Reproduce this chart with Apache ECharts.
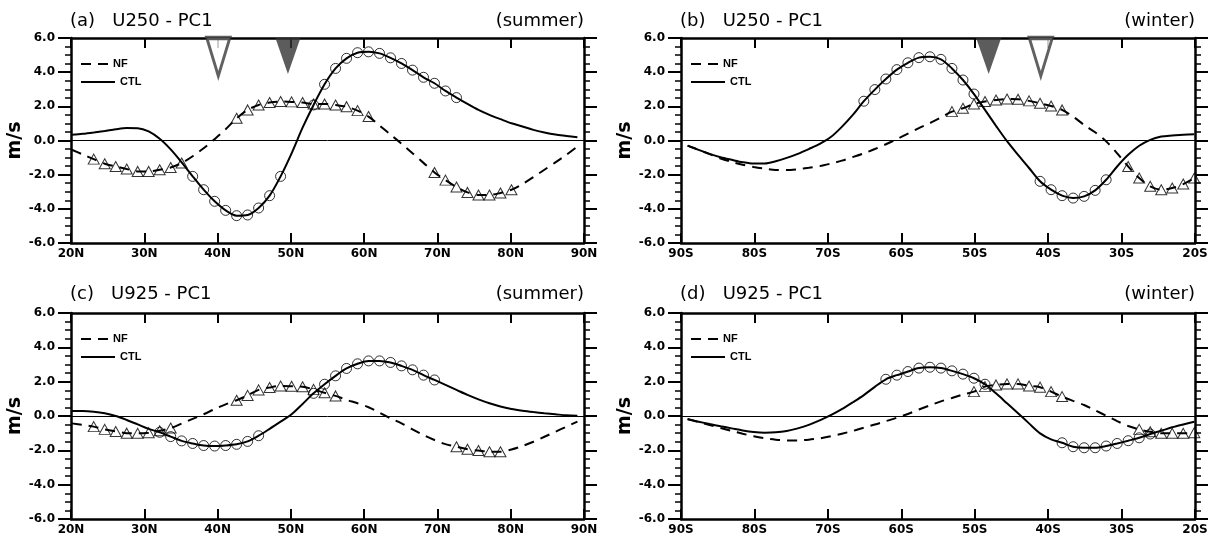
<!DOCTYPE html>
<html>
<head>
<meta charset="utf-8">
<script src="https://cdn.jsdelivr.net/npm/echarts@6.0.0/dist/echarts.min.js"></script>
<style>
  html, body { margin: 0; padding: 0; background: #fff; }
  #chart { width: 1217px; height: 543px; }
</style>
</head>
<body>
<div id="chart"></div>
<script>
  // latitude grid (1.5 deg)
  var latN = [20.1, 21.6, 23.1, 24.6, 26.1, 27.6, 29.1, 30.6, 32.1, 33.6,
    35.1, 36.6, 38.1, 39.6, 41.1, 42.6, 44.1, 45.6, 47.1, 48.6,
    50.1, 51.6, 53.1, 54.6, 56.1, 57.6, 59.1, 60.6, 62.1, 63.6,
    65.1, 66.6, 68.1, 69.6, 71.1, 72.6, 74.1, 75.6, 77.1, 78.6,
    80.1, 81.6, 83.1, 84.6, 86.1, 87.6, 89.1];
  var latS = latN.slice().reverse().map(function (v) { return -v; });

  // y axis range / ticks
  var yMin = -6, yMax = 6, yStep = 2;

  // (a) U250 summer
  var nfA = [-0.54, -0.82, -1.09, -1.36, -1.52, -1.67, -1.81, -1.81, -1.71, -1.58,
    -1.32, -0.92, -0.45, 0.08, 0.66, 1.30, 1.79, 2.08, 2.22, 2.28,
    2.26, 2.22, 2.14, 2.14, 2.08, 1.98, 1.75, 1.40, 0.88, 0.35,
    -0.19, -0.75, -1.31, -1.87, -2.32, -2.72, -3.04, -3.19, -3.19, -3.07,
    -2.88, -2.55, -2.14, -1.71, -1.28, -0.84, -0.35];
  var ctlA = [0.33, 0.39, 0.47, 0.56, 0.66, 0.73, 0.72, 0.53, 0.10, -0.52,
    -1.28, -2.10, -2.88, -3.56, -4.09, -4.40, -4.36, -3.95, -3.23, -2.10,
    -0.75, 0.75, 2.08, 3.29, 4.22, 4.81, 5.14, 5.19, 5.10, 4.84,
    4.51, 4.12, 3.70, 3.35, 2.90, 2.51, 2.14, 1.79, 1.50, 1.25,
    1.01, 0.82, 0.62, 0.47, 0.35, 0.27, 0.19];
  var sigNfA = [[23.1, 35.1], [42.6, 60.6], [69.6, 80.1]];
  var sigCtlA = [[36.6, 48.6], [53.1, 72.6]];
  var jetNfA = [40.1];
  var jetCtlA = [49.6];

  // (b) U250 winter
  var nfB = [-0.30, -0.55, -0.80, -1.05, -1.25, -1.42, -1.55, -1.65, -1.72, -1.73,
    -1.68, -1.60, -1.50, -1.35, -1.18, -0.97, -0.75, -0.50, -0.22, 0.08,
    0.40, 0.72, 1.02, 1.35, 1.69, 1.89, 2.14, 2.28, 2.37, 2.43,
    2.41, 2.32, 2.18, 2.02, 1.79, 1.40, 0.91, 0.48, -0.05, -0.75,
    -1.52, -2.20, -2.68, -2.88, -2.78, -2.55, -2.20];
  var ctlB = [-0.30, -0.55, -0.78, -0.98, -1.13, -1.27, -1.35, -1.35, -1.22, -1.02,
    -0.78, -0.50, -0.20, 0.20, 0.80, 1.50, 2.30, 2.98, 3.60, 4.15,
    4.55, 4.85, 4.90, 4.75, 4.22, 3.54, 2.72, 1.79, 0.86, -0.04,
    -0.84, -1.61, -2.39, -2.88, -3.23, -3.37, -3.27, -2.92, -2.30, -1.52,
    -0.84, -0.31, 0.04, 0.23, 0.29, 0.33, 0.37];
  var sigNfB = [[-53.1, -38.1], [-29.1, -20.1]];
  var sigCtlB = [[-65.1, -50.1], [-41.1, -32.1]];
  var jetNfB = [-41.0];
  var jetCtlB = [-48.1];

  // (c) U925 summer
  var nfC = [-0.43, -0.52, -0.62, -0.78, -0.90, -1.00, -1.01, -0.97, -0.86, -0.70,
    -0.44, -0.17, 0.10, 0.40, 0.68, 0.92, 1.20, 1.52, 1.66, 1.75,
    1.73, 1.70, 1.55, 1.35, 1.17, 0.94, 0.74, 0.51, 0.19, -0.14,
    -0.43, -0.78, -1.11, -1.40, -1.64, -1.79, -1.94, -2.01, -2.08, -2.08,
    -1.95, -1.75, -1.50, -1.21, -0.92, -0.62, -0.33];
  var ctlC = [0.29, 0.29, 0.25, 0.16, 0.00, -0.23, -0.49, -0.75, -0.95, -1.20,
    -1.45, -1.60, -1.72, -1.75, -1.72, -1.65, -1.48, -1.15, -0.75, -0.33,
    0.10, 0.70, 1.32, 1.85, 2.34, 2.77, 3.04, 3.21, 3.21, 3.12,
    2.92, 2.69, 2.38, 2.10, 1.81, 1.52, 1.23, 0.97, 0.74, 0.55,
    0.41, 0.31, 0.23, 0.16, 0.10, 0.04, 0.02];
  var sigNfC = [[23.1, 33.6], [42.6, 56.1], [72.6, 78.6]];
  var sigCtlC = [[32.1, 45.6], [53.1, 69.6]];

  // (d) U925 winter
  var nfD = [-0.17, -0.35, -0.52, -0.70, -0.87, -1.03, -1.18, -1.30, -1.38, -1.42,
    -1.42, -1.38, -1.30, -1.18, -1.03, -0.87, -0.68, -0.50, -0.30, -0.10,
    0.12, 0.38, 0.62, 0.85, 1.05, 1.25, 1.42, 1.71, 1.81, 1.87,
    1.87, 1.75, 1.68, 1.42, 1.13, 0.88, 0.64, 0.33, 0.02, -0.30,
    -0.58, -0.78, -0.92, -1.01, -1.01, -1.01, -0.97];
  var ctlD = [-0.19, -0.33, -0.47, -0.60, -0.72, -0.84, -0.93, -0.97, -0.95, -0.87,
    -0.72, -0.52, -0.25, 0.05, 0.40, 0.80, 1.22, 1.70, 2.14, 2.38,
    2.59, 2.79, 2.84, 2.79, 2.63, 2.44, 2.20, 1.85, 1.32, 0.74,
    0.16, -0.43, -1.01, -1.36, -1.56, -1.79, -1.85, -1.85, -1.75, -1.60,
    -1.44, -1.27, -1.05, -0.86, -0.66, -0.49, -0.33];
  var sigNfD = [[-50.1, -38.1], [-27.6, -20.1]];
  var sigCtlD = [[-62.1, -48.6], [-38.1, -26.1]];

  var panels = [
    { title: '(a)   U250 - PC1', season: '(summer)', hemi: 'N', lats: latN, nf: nfA, ctl: ctlA, nfSig: sigNfA, ctlSig: sigCtlA, jetNf: jetNfA, jetCtl: jetCtlA },
    { title: '(b)   U250 - PC1', season: '(winter)', hemi: 'S', lats: latS, nf: nfB, ctl: ctlB, nfSig: sigNfB, ctlSig: sigCtlB, jetNf: jetNfB, jetCtl: jetCtlB },
    { title: '(c)   U925 - PC1', season: '(summer)', hemi: 'N', lats: latN, nf: nfC, ctl: ctlC, nfSig: sigNfC, ctlSig: sigCtlC, jetNf: [], jetCtl: [] },
    { title: '(d)   U925 - PC1', season: '(winter)', hemi: 'S', lats: latS, nf: nfD, ctl: ctlD, nfSig: sigNfD, ctlSig: sigCtlD, jetNf: [], jetCtl: [] }
  ];

  function pairs(lats, vals) {
    return lats.map(function (x, i) { return [x, vals[i]]; });
  }
  function sigPairs(lats, vals, ranges) {
    var out = [];
    lats.forEach(function (x, i) {
      ranges.forEach(function (r) {
        if (x >= r[0] - 0.01 && x <= r[1] + 0.01) out.push([x, vals[i]]);
      });
    });
    return out;
  }

  var chart = echarts.init(document.getElementById('chart'));
  var black = '#000';
  var labelFont = { color: black, fontFamily: 'DejaVu Sans', fontWeight: 'bold', fontSize: 12 };

  var option = {
    animation: false,
    backgroundColor: '#fff',
    title: [], legend: [], grid: [], xAxis: [], yAxis: [], series: []
  };

  panels.forEach(function (p, i) {
    var col = i % 2, row = Math.floor(i / 2);
    var left = col ? 681 : 71, width = col ? 514 : 513;
    var top = row ? 313 : 38, height = row ? 206 : 205;
    var titleTop = row ? 285 : 12;

    option.grid.push({ left: left, top: top, width: width, height: height, containLabel: false, outerBoundsMode: 'none' });

    var xmin = p.hemi === 'N' ? 20 : -90;
    var xmax = p.hemi === 'N' ? 90 : -20;
    var fmt = p.hemi === 'N'
      ? function (v) { return v + 'N'; }
      : function (v) { return (-v) + 'S'; };

    // 边框 + 刻度
    option.xAxis.push({
      gridIndex: i, type: 'value', min: xmin, max: xmax, interval: 10, position: 'bottom',
      axisLine: { onZero: false, lineStyle: { color: black, width: 2.5 } },
      axisTick: { inside: true, length: 10, lineStyle: { color: black, width: 2 } },
      axisLabel: Object.assign({ margin: 5, formatter: fmt }, labelFont),
      splitLine: { show: false }
    });
    option.xAxis.push({
      gridIndex: i, type: 'value', min: xmin, max: xmax, interval: 10, position: 'top',
      axisLine: { onZero: false, lineStyle: { color: black, width: 2.5 } },
      axisTick: { inside: true, length: 10, lineStyle: { color: black, width: 2 } },
      axisLabel: { show: false },
      splitLine: { show: false }
    });
    option.yAxis.push({
      gridIndex: i, type: 'value', min: yMin, max: yMax, interval: yStep, position: 'left',
      name: 'm/s', nameLocation: 'middle', nameGap: 38,
      nameTextStyle: { color: black, fontFamily: 'DejaVu Sans', fontWeight: 'bold', fontSize: 19 },
      axisLine: { onZero: false, lineStyle: { color: black, width: 2.5 } },
      axisTick: { inside: false, length: 13, lineStyle: { color: black, width: 2 } },
      minorTick: { show: true, splitNumber: 4, length: 6, lineStyle: { color: black, width: 1.5 } },
      axisLabel: Object.assign({ margin: 16, formatter: function (v) { return v.toFixed(1); } }, labelFont),
      splitLine: { show: false }
    });
    option.yAxis.push({
      gridIndex: i, type: 'value', min: yMin, max: yMax, interval: yStep, position: 'right',
      axisLine: { onZero: false, lineStyle: { color: black, width: 2.5 } },
      axisTick: { inside: false, length: 13, lineStyle: { color: black, width: 2 } },
      minorTick: { show: true, splitNumber: 4, length: 6, lineStyle: { color: black, width: 1.5 } },
      axisLabel: { show: false },
      splitLine: { show: false }
    });

    // 标题
    var tStyle = { color: black, fontFamily: 'DejaVu Sans', fontSize: 18, fontWeight: 'normal', lineHeight: 18 };
    option.title.push({ text: p.title, left: left - 1, top: titleTop, padding: 0, textStyle: tStyle });
    option.title.push({ text: p.season, right: 1217 - (left + width), top: titleTop, padding: 0, textStyle: tStyle });

    // 图例 (只画线, 不画点)
    var lgText = { color: black, fontFamily: 'Liberation Sans', fontWeight: 'bold', fontSize: 11, lineHeight: 14 };
    var noDot = { opacity: 0 };
    option.legend.push({ data: [{ name: 'NF', itemStyle: noDot }], left: left + 9, top: top + 19, padding: 0, itemWidth: 27, itemHeight: 14, selectedMode: false, textStyle: lgText });
    option.legend.push({ data: [{ name: 'CTL', itemStyle: noDot }], left: left + 9, top: top + 37, padding: 0, itemWidth: 34, itemHeight: 14, selectedMode: false, textStyle: lgText });

    var xi = 2 * i, yi = 2 * i;
    option.series.push({
      name: 'NF', type: 'line', xAxisIndex: xi, yAxisIndex: yi, data: pairs(p.lats, p.nf),
      symbol: 'none', smooth: 0.3, silent: true, z: 2,
      itemStyle: { color: black },
      lineStyle: { color: black, width: 2, type: [10, 7] }
    });
    option.series.push({
      name: 'CTL', type: 'line', xAxisIndex: xi, yAxisIndex: yi, data: pairs(p.lats, p.ctl),
      symbol: 'none', smooth: 0.3, silent: true, z: 2,
      itemStyle: { color: black },
      lineStyle: { color: black, width: 2 },
      markLine: {
        silent: true, symbol: 'none', animation: false, label: { show: false },
        lineStyle: { color: black, width: 1, type: 'solid' },
        data: [{ yAxis: 0 }]
      }
    });
    option.series.push({
      name: 'NF sig', type: 'scatter', xAxisIndex: xi, yAxisIndex: yi,
      data: sigPairs(p.lats, p.nf, p.nfSig), symbol: 'triangle', symbolSize: [11, 10],
      silent: true, z: 3,
      itemStyle: { color: 'rgba(0,0,0,0)', borderColor: black, borderWidth: 1 }
    });
    option.series.push({
      name: 'CTL sig', type: 'scatter', xAxisIndex: xi, yAxisIndex: yi,
      data: sigPairs(p.lats, p.ctl, p.ctlSig), symbol: 'circle', symbolSize: 10,
      silent: true, z: 3,
      itemStyle: { color: 'rgba(0,0,0,0)', borderColor: black, borderWidth: 1 }
    });
    // 急流位置 (倒三角)
    if (p.jetNf.length) {
      option.series.push({
        name: 'jet NF', type: 'scatter', xAxisIndex: xi, yAxisIndex: yi, clip: false,
        data: p.jetNf.map(function (x) { return [x, yMax]; }),
        symbol: 'path://M0,0L20,0L10,30Z', symbolSize: [23, 38], symbolOffset: [0, '50%'],
        silent: true, z: 10,
        itemStyle: { color: '#fff', borderColor: '#3a3a3a', borderWidth: 3.5 }
      });
    }
    if (p.jetCtl.length) {
      option.series.push({
        name: 'jet CTL', type: 'scatter', xAxisIndex: xi, yAxisIndex: yi, clip: false,
        data: p.jetCtl.map(function (x) { return [x, yMax]; }),
        symbol: 'path://M0,0L20,0L10,30Z', symbolSize: [25, 36], symbolOffset: [0, '50%'],
        silent: true, z: 10,
        itemStyle: { color: '#333', borderWidth: 0 }
      });
    }
  });

  chart.setOption(option);
</script>
</body>
</html>
